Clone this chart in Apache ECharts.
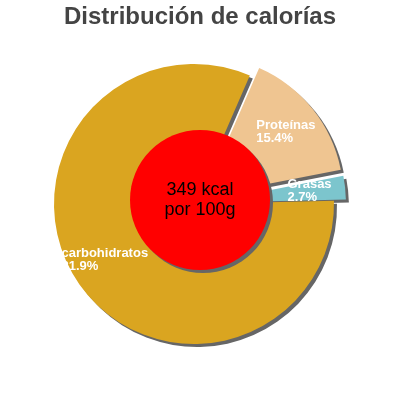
<!DOCTYPE html>
<html>
<head>
<meta charset="utf-8">
<script src="https://cdn.jsdelivr.net/npm/echarts@6/dist/echarts.min.js"></script>
<style>html,body{margin:0;padding:0;background:#fff}#c{width:400px;height:400px}</style>
</head>
<body>
<div id="c"></div>
<script>
var titleText = 'Distribución de calorías';
var categories = ['Proteínas', 'Grasas', 'carbohidratos'];
var percents = [15.4, 2.7, 81.9];
var exploded = [true, true, false];
var colors = ['#EFC591', '#7CC5CD', '#DAA520'];
var centerLines = ['349 kcal', 'por 100g'];

var labelOffsets = [[-4, -32], [9, -17], [-72, 2]];

var chart = echarts.init(document.getElementById('c'), null, {renderer: 'canvas'});
chart.setOption({
  animation: false,
  title: {
    text: titleText, left: 'center', top: 0,
    textStyle: {fontFamily: 'Liberation Sans', fontSize: 24, fontWeight: 'bold', color: '#444'}
  },
  series: [{
    type: 'pie',
    center: [194, 204],
    radius: [0, 140],
    startAngle: 66.5,
    clockwise: true,
    selectedMode: 'multiple',
    selectedOffset: 12,
    avoidLabelOverlap: false,
    emphasis: {disabled: true},
    itemStyle: {borderWidth: 0, shadowColor: '#666', shadowBlur: 0, shadowOffsetX: 3, shadowOffsetY: 3},
    label: {
      show: true, position: 'inside', color: '#fff',
      fontFamily: 'Liberation Sans', fontSize: 13, fontWeight: 'bold', lineHeight: 13,
      formatter: function (p) { return p.name + '\n' + p.value + '%'; }
    },
    labelLine: {show: false},
    labelLayout: function (p) {
      var o = labelOffsets[p.dataIndex];
      return {align: 'left', verticalAlign: 'top', dx: o[0], dy: o[1]};
    },
    data: categories.map(function (n, i) {
      return {name: n, value: percents[i], selected: exploded[i], itemStyle: {color: colors[i]}};
    })
  }, {
    type: 'pie',
    center: [200, 200],
    radius: [0, 70],
    silent: true,
    selectedMode: false,
    emphasis: {disabled: true},
    itemStyle: {color: '#FF0000', borderWidth: 0, shadowColor: '#666', shadowBlur: 0, shadowOffsetX: 3, shadowOffsetY: 3},
    label: {
      show: true, position: 'center', color: '#000',
      fontFamily: 'Liberation Sans', fontSize: 18, lineHeight: 20,
      formatter: centerLines.join('\n')
    },
    labelLine: {show: false},
    data: [{value: 1, name: 'kcal'}]
  }]
});
</script>
</body>
</html>
